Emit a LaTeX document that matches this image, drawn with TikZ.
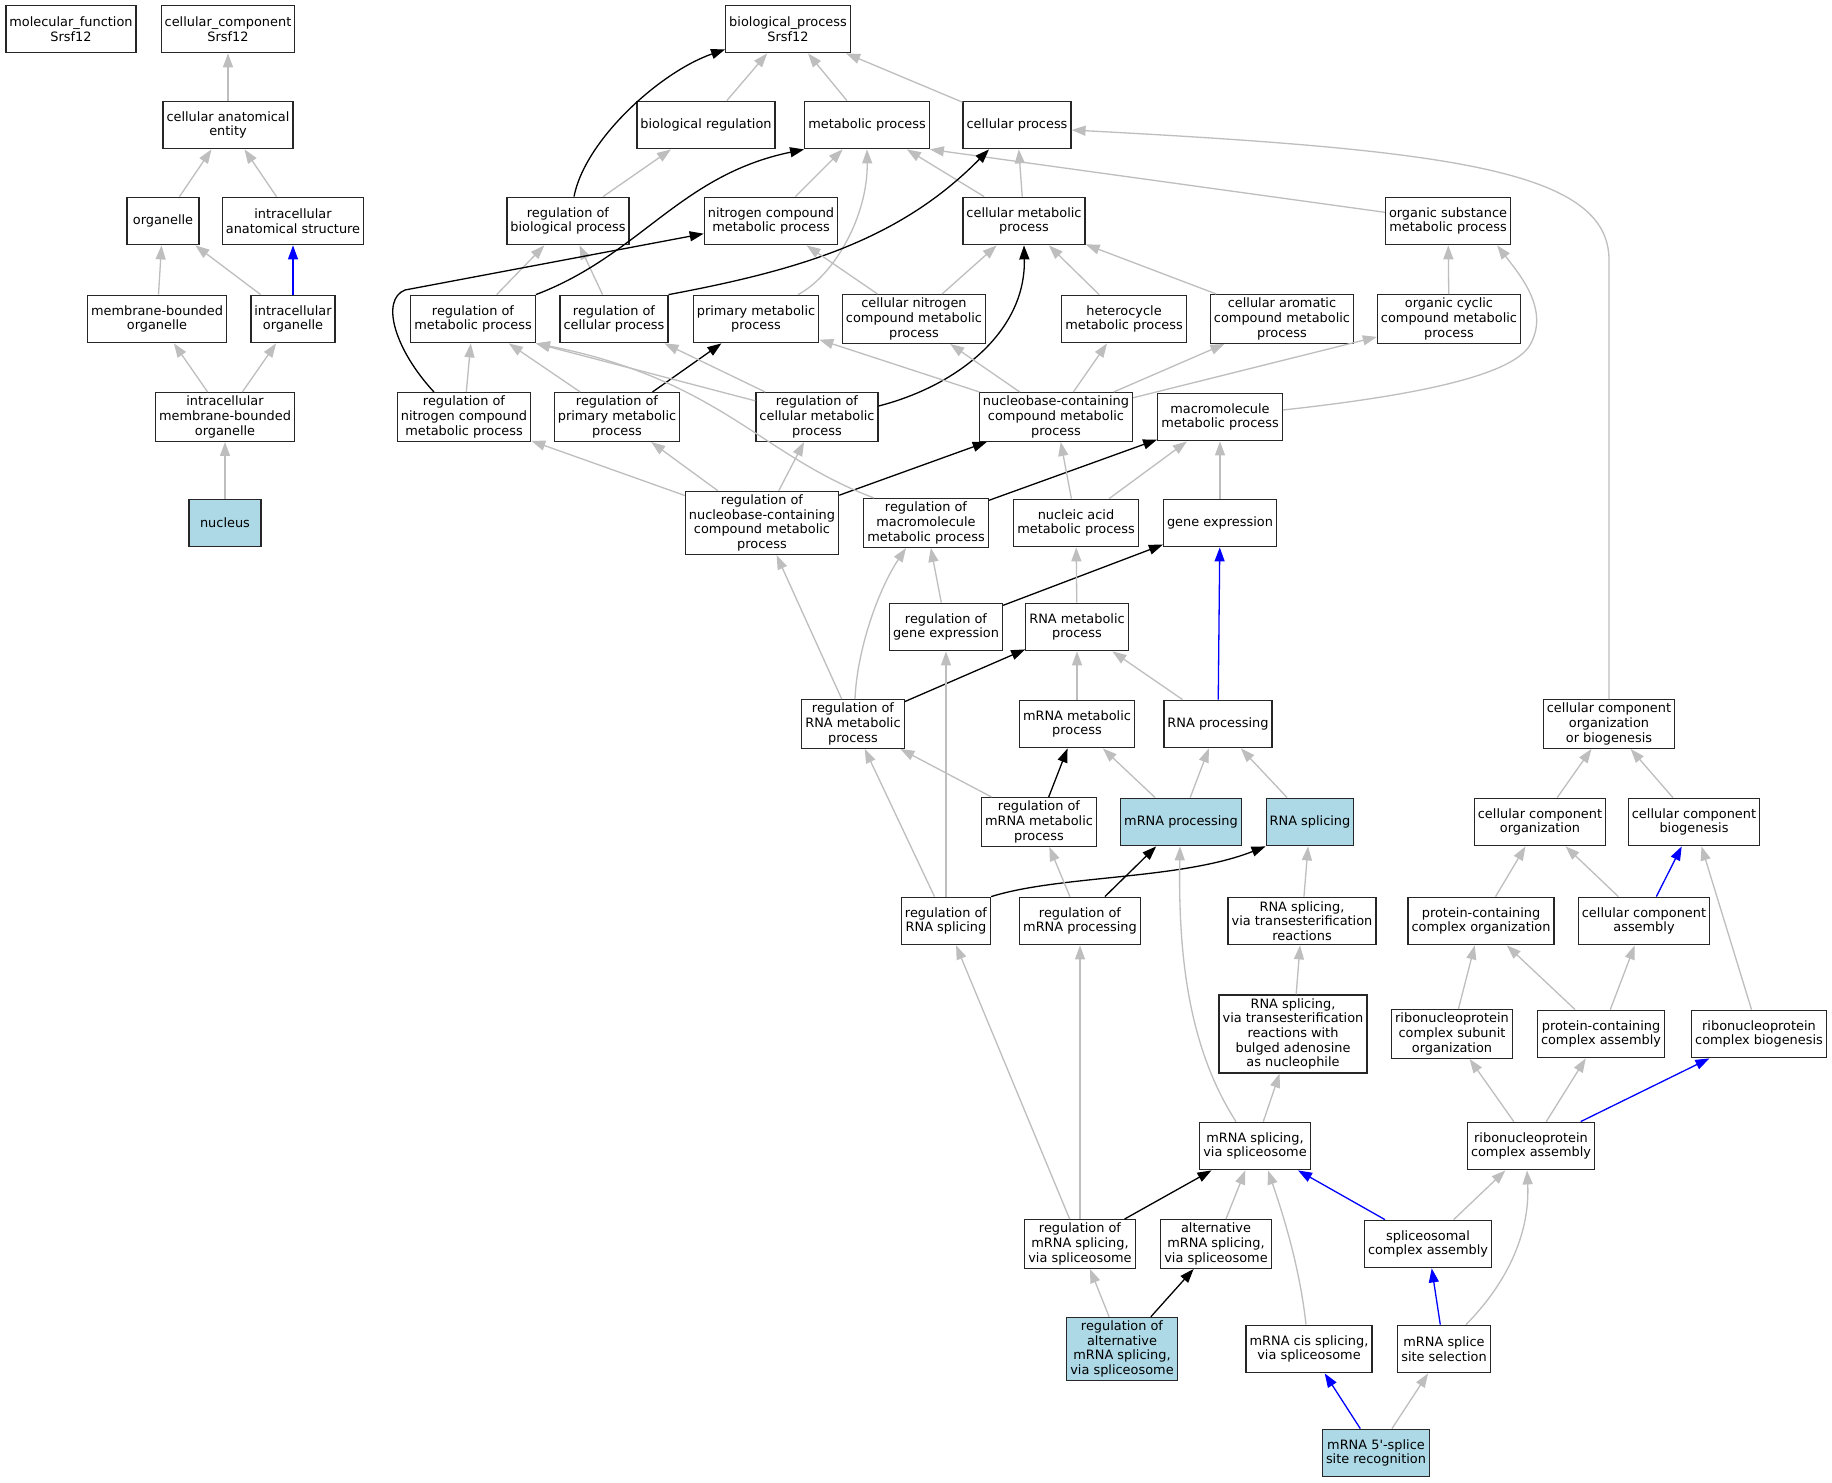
\documentclass[tikz,border=0pt]{standalone}
\usepackage{fontspec}
\setmainfont{DejaVu Sans}
\usetikzlibrary{arrows.meta}
\definecolor{edgegray}{HTML}{BEBEBE}
\definecolor{hitblue}{HTML}{ADD8E6}
\begin{document}
\begin{tikzpicture}[x=1pt,y=-1pt,
  term/.style={draw=black!85,line width=1.3pt,fill=white,align=center,inner xsep=3.5pt,inner ysep=3.5pt,
    minimum width=72pt,minimum height=47.5pt,font=\fontsize{12.9}{14.6}\selectfont},
  hit/.style={term,fill=hitblue},
  isa/.style={draw=edgegray,line width=1.3pt,-{Triangle[length=14pt,width=10pt]}},
  regl/.style={isa,draw=black},
  partof/.style={isa,draw=blue}]
\path[use as bounding box,fill=white] (0,0) rectangle (1832,1483);
% roots
\node[term] (mf) at (71,29) {molecular\_function\\Srsf12};
\node[term] (cc) at (228,29) {cellular\_component\\Srsf12};
\node[term] (bp) at (788,29) {biological\_process\\Srsf12};
\node[term] (cae) at (228,125) {cellular anatomical\\entity};
\node[term] (breg) at (706,125) {biological regulation};
\node[term] (mp) at (867,125) {metabolic process};
\node[term] (cp) at (1017,125) {cellular process};
\node[term] (org) at (163,221) {organelle};
\node[term] (ias) at (293,221) {intracellular\\anatomical structure};
\node[term] (rbp) at (568,221) {regulation of\\biological process};
\node[term] (ncmp) at (771,221) {nitrogen compound\\metabolic process};
\node[term] (cmp) at (1024,221) {cellular metabolic\\process};
\node[term] (osmp) at (1448,221) {organic substance\\metabolic process};
\node[term] (mbo) at (157,319) {membrane-bounded\\organelle};
\node[term] (io) at (293,319) {intracellular\\organelle};
\node[term] (rmp) at (473,319) {regulation of\\metabolic process};
\node[term] (rcp) at (614,319) {regulation of\\cellular process};
\node[term] (pmp) at (756,319) {primary metabolic\\process};
\node[term] (cncmp) at (914,319) {cellular nitrogen\\compound metabolic\\process};
\node[term] (hmp) at (1124,319) {heterocycle\\metabolic process};
\node[term] (camp) at (1282,319) {cellular aromatic\\compound metabolic\\process};
\node[term] (occmp) at (1449,319) {organic cyclic\\compound metabolic\\process};
\node[term] (imbo) at (225,417) {intracellular\\membrane-bounded\\organelle};
\node[term] (rncmp) at (464,417) {regulation of\\nitrogen compound\\metabolic process};
\node[term] (rpmp) at (617,417) {regulation of\\primary metabolic\\process};
\node[term] (rcmp) at (817,417) {regulation of\\cellular metabolic\\process};
\node[term] (ncbcmp) at (1056,417) {nucleobase-containing\\compound metabolic\\process};
\node[term] (mmp) at (1220,417) {macromolecule\\metabolic process};
\node[hit] (nuc) at (225,523) {nucleus};
\node[term] (rnbc) at (762,523) {regulation of\\nucleobase-containing\\compound metabolic\\process};
\node[term] (rmmp) at (926,523) {regulation of\\macromolecule\\metabolic process};
\node[term] (nam) at (1076,523) {nucleic acid\\metabolic process};
\node[term] (ge) at (1220,523) {gene expression};
\node[term] (rge) at (946,627) {regulation of\\gene expression};
\node[term] (rnam) at (1077,627) {RNA metabolic\\process};
\node[term] (rrnam) at (853,724) {regulation of\\RNA metabolic\\process};
\node[term] (mrnam) at (1077,724) {mRNA metabolic\\process};
\node[term] (rnap) at (1218,724) {RNA processing};
\node[term] (ccob) at (1609,724) {cellular component\\organization\\or biogenesis};
\node[term] (rmrnam) at (1039,822) {regulation of\\mRNA metabolic\\process};
\node[hit] (mrnap) at (1181,822) {mRNA processing};
\node[hit] (rnas) at (1310,822) {RNA splicing};
\node[term] (cco) at (1540,822) {cellular component\\organization};
\node[term] (ccb) at (1694,822) {cellular component\\biogenesis};
\node[term] (rrnas) at (946,921) {regulation of\\RNA splicing};
\node[term] (rmrnap) at (1080,921) {regulation of\\mRNA processing};
\node[term] (rnaste) at (1302,921) {RNA splicing,\\via transesterification\\reactions};
\node[term] (pcco) at (1481,921) {protein-containing\\complex organization};
\node[term] (cca) at (1644,921) {cellular component\\assembly};
\node[term] (rnasba) at (1293,1034) {RNA splicing,\\via transesterification\\reactions with\\bulged adenosine\\as nucleophile};
\node[term] (rcso) at (1452,1034) {ribonucleoprotein\\complex subunit\\organization};
\node[term] (pcca) at (1601,1034) {protein-containing\\complex assembly};
\node[term] (rcb) at (1759,1034) {ribonucleoprotein\\complex biogenesis};
\node[term] (mss) at (1255,1146) {mRNA splicing,\\via spliceosome};
\node[term] (rca) at (1531,1146) {ribonucleoprotein\\complex assembly};
\node[term] (rmss) at (1080,1244) {regulation of\\mRNA splicing,\\via spliceosome};
\node[term] (amss) at (1216,1244) {alternative\\mRNA splicing,\\via spliceosome};
\node[term] (sca) at (1428,1244) {spliceosomal\\complex assembly};
\node[hit] (ramss) at (1122,1349) {regulation of\\alternative\\mRNA splicing,\\via spliceosome};
\node[term] (mcis) at (1309,1349) {mRNA cis splicing,\\via spliceosome};
\node[term] (msss) at (1444,1349) {mRNA splice\\site selection};
\node[hit] (m5ss) at (1376,1453) {mRNA 5\textquotesingle-splice\\site recognition};
% cellular component edges
\draw[isa] (cae) -- (cc);
\draw[isa] (org) -- (cae);
\draw[isa] (ias) -- (cae);
\draw[isa] (mbo) -- (org);
\draw[isa] (io) -- (org);
\draw[partof] (io) -- (ias);
\draw[isa] (imbo) -- (mbo);
\draw[isa] (imbo) -- (io);
\draw[isa] (nuc) -- (imbo);
% upper process edges
\draw[isa] (breg) -- (bp);
\draw[isa] (mp) -- (bp);
\draw[isa] (cp) -- (bp);
\draw[regl] ([xshift=6pt]rbp.north) .. controls (585,140) and (660,72) .. ([yshift=4pt]bp.south west);
\draw[isa] (rbp) -- (breg);
\draw[isa] (ncmp) -- (mp);
\draw[isa] (cmp) -- (mp);
\draw[isa] (osmp) -- (mp.south east);
\draw[isa] ([xshift=42pt]pmp.north) .. controls (835,275) and (868,215) .. (mp.south);
\draw[isa] (cmp) -- (cp);
\draw[regl] (rcp.north east) .. controls (800,270) and (900,240) .. ([xshift=-28pt]cp.south);
\draw[isa] (rmp) -- (rbp);
\draw[isa] (rcp) -- (rbp);
\draw[regl] (rmp.north east) .. controls (640,255) and (680,175) .. (mp.south west);
\draw[isa] (cncmp) -- (ncmp);
\draw[isa] (cncmp) -- (cmp);
\draw[isa] (hmp) -- (cmp);
\draw[isa] (camp) -- (cmp);
\draw[isa] (occmp) -- (osmp);
\draw[regl] ([xshift=-30pt]rncmp.north) .. controls (395,350) and (380,300) .. (405,290) -- (ncmp);
\draw[isa] (rncmp) -- (rmp);
\draw[regl] (rpmp) -- (pmp);
\draw[isa] (rpmp) -- (rmp);
\draw[isa] (rcmp) -- (rmp.south east);
\draw[isa] (rcmp) -- (rcp);
\draw[regl] ([yshift=11pt]rcmp.east) .. controls (960,385) and (1026,330) .. (cmp.south);
\draw[isa] (ncbcmp) -- (pmp);
\draw[isa] (ncbcmp) -- (cncmp);
\draw[isa] (ncbcmp) -- (hmp);
\draw[isa] (ncbcmp) -- (camp);
\draw[isa] (ncbcmp) -- (occmp);
\draw[isa] ([yshift=7pt]mmp.east) .. controls (1420,395) and (1512,375) .. (1530,345)
  .. controls (1550,310) and (1520,275) .. ([xshift=-14pt]osmp.south east);
% middle edges
\draw[isa] (rnbc) -- (rncmp);
\draw[isa] (rnbc) -- (rpmp);
\draw[isa] (rnbc) -- (rcmp);
\draw[regl] (rnbc) -- (ncbcmp);
\draw[isa] ([xshift=11pt]rmmp.north west) .. controls (760,455) and (720,380) .. (rmp.south east);
\draw[regl] (rmmp) -- (mmp);
\draw[isa] (nam) -- (ncbcmp);
\draw[isa] (nam) -- (mmp);
\draw[isa] (ge) -- (mmp);
\draw[isa] (rge) -- (rmmp);
\draw[regl] (rge) -- (ge);
\draw[isa] (rnam) -- (nam);
\draw[isa] (rrnam) -- (rnbc);
\draw[isa] ([xshift=2pt]rrnam.north) .. controls (857,650) and (878,590) .. ([xshift=-20pt]rmmp.south);
\draw[regl] (rrnam) -- (rnam);
\draw[isa] (mrnam) -- (rnam);
\draw[isa] (rnap) -- (rnam);
\draw[partof] (rnap) -- (ge);
\draw[isa] (ccob.north) -- (1609,260) .. controls (1609,170) and (1450,150) .. ([yshift=-5pt]cp.east);
% splicing edges
\draw[isa] (rmrnam) -- (rrnam);
\draw[regl] (rmrnam) -- (mrnam);
\draw[isa] (mrnap) -- (mrnam);
\draw[isa] (mrnap) -- (rnap);
\draw[isa] (rnas) -- (rnap);
\draw[isa] (cco) -- (ccob);
\draw[isa] (ccb) -- (ccob);
\draw[isa] (rrnas) -- (rrnam);
\draw[isa] (rrnas) -- (rge);
\draw[regl] (rrnas.north east) .. controls (1060,875) and (1180,880) .. (rnas.south west);
\draw[isa] (rmrnap) -- (rmrnam);
\draw[regl] (rmrnap) -- (mrnap);
\draw[isa] (rnaste) -- (rnas);
\draw[isa] (pcco) -- (cco);
\draw[isa] (cca) -- (cco);
\draw[partof] (cca) -- (ccb);
\draw[isa] (rnasba) -- (rnaste);
\draw[isa] (rcso) -- (pcco);
\draw[isa] (pcca) -- (pcco);
\draw[isa] (pcca) -- (cca);
\draw[isa] (rcb) -- (ccb);
\draw[isa] (mss) -- (rnasba);
\draw[isa] ([xshift=-19pt]mss.north) .. controls (1190,1050) and (1178,960) .. ([xshift=-1pt]mrnap.south);
\draw[isa] (rca) -- (rcso);
\draw[isa] (rca) -- (pcca);
\draw[partof] (rca) -- (rcb);
\draw[isa] (rmss) -- (rrnas);
\draw[isa] (rmss) -- (rmrnap);
\draw[regl] (rmss) -- (mss);
\draw[isa] (amss) -- (mss);
\draw[partof] (sca) -- (mss);
\draw[isa] (sca) -- (rca);
\draw[isa] (ramss) -- (rmss);
\draw[regl] (ramss) -- (amss);
\draw[isa] ([xshift=-3pt]mcis.north) .. controls (1300,1270) and (1285,1220) .. ([xshift=13pt]mss.south);
\draw[partof] (msss) -- (sca);
\draw[isa] ([xshift=22pt]msss.north) .. controls (1510,1280) and (1530,1230) .. ([xshift=-4pt]rca.south);
\draw[partof] (m5ss) -- (mcis);
\draw[isa] (m5ss) -- (msss);
\end{tikzpicture}
\end{document}
